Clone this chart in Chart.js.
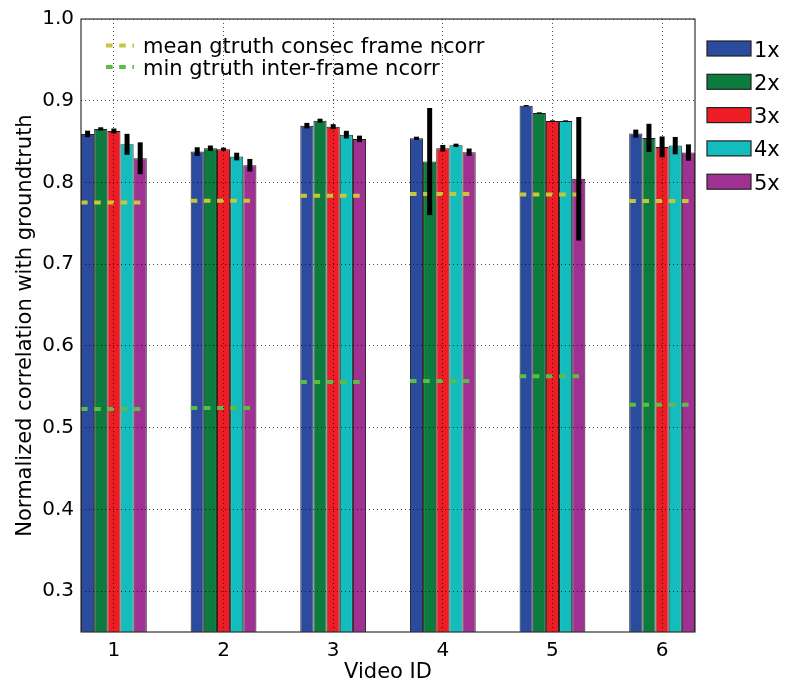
<!doctype html>
<html lang="en">
<head>
<meta charset="utf-8">
<title>Normalized correlation with groundtruth</title>
<script src="https://cdn.jsdelivr.net/npm/chart.js@4.4.1/dist/chart.umd.min.js"></script>
<style>
  html, body { margin: 0; padding: 0; background: #fff; }
  #wrap { width: 785px; height: 686px; }
</style>
</head>
<body>
<div id="wrap"><canvas id="myChart"></canvas></div>
<script>
// data
const videoIds = [1, 2, 3, 4, 5, 6];
const yTicks = [0.3, 0.4, 0.5, 0.6, 0.7, 0.8, 0.9, 1.0];
const seriesLabels = ['1x', '2x', '3x', '4x', '5x'];
const seriesColors = ['#2b4c9e', '#0c7b3e', '#ee1d25', '#13bdbd', '#a03192'];

const ncorr1x = [0.8594, 0.8378, 0.8695, 0.8540, 0.8939, 0.8598];
const ncorr2x = [0.8655, 0.8419, 0.8756, 0.8256, 0.8850, 0.8545];
const ncorr3x = [0.8630, 0.8406, 0.8683, 0.8419, 0.8752, 0.8435];
const ncorr4x = [0.8467, 0.8317, 0.8585, 0.8455, 0.8752, 0.8451];
const ncorr5x = [0.8296, 0.8211, 0.8533, 0.8370, 0.8045, 0.8366];

const err1x = [0.0040, 0.0053, 0.0034, 0.0020, 0.0008, 0.0049];
const err2x = [0.0020, 0.0033, 0.0024, 0.0655, 0.0008, 0.0173];
const err3x = [0.0030, 0.0020, 0.0030, 0.0040, 0.0008, 0.0128];
const err4x = [0.0128, 0.0047, 0.0047, 0.0020, 0.0008, 0.0106];
const err5x = [0.0195, 0.0077, 0.0040, 0.0045, 0.0756, 0.0100];

const meanConsecNcorr = [0.7756, 0.7777, 0.7838, 0.7858, 0.7854, 0.7772];
const minInterNcorr = [0.5228, 0.5240, 0.5560, 0.5570, 0.5630, 0.5280];

const lineLabels = ['mean gtruth consec frame ncorr', 'min gtruth inter-frame ncorr'];
const lineColors = ['#c6c63c', '#5cbc48'];

const seriesValues = [ncorr1x, ncorr2x, ncorr3x, ncorr4x, ncorr5x];
const seriesErrors = [err1x, err2x, err3x, err4x, err5x];

const FONT = 'DejaVu Sans';
Chart.defaults.font.family = FONT;
Chart.defaults.color = '#000';

const groupHalf = 0.3; // bars fill 0.6 of each unit

// dashed segment across each group, broken by null points
function segments(vals) {
    const pts = [];
    videoIds.forEach((id, i) => {
        pts.push({ x: id - groupHalf, y: vals[i] });
        pts.push({ x: id + groupHalf, y: vals[i] });
        pts.push({ x: id + 0.5, y: null });
    });
    return pts;
}

const barSets = seriesLabels.map((label, k) => ({
    type: 'bar',
    label: label,
    data: videoIds.map((id, i) => ({ x: id, y: seriesValues[k][i] })),
    backgroundColor: seriesColors[k],
    borderColor: '#1c1c1c',
    borderWidth: 1,
    borderSkipped: false,
    categoryPercentage: 0.6,
    barPercentage: 1.0,
    order: 1
}));

const lineSets = lineLabels.map((label, k) => ({
    type: 'line',
    label: label,
    data: segments(k === 0 ? meanConsecNcorr : minInterNcorr),
    borderColor: lineColors[k],
    borderWidth: 4,
    borderDash: [6.6, 6.6],
    borderCapStyle: 'butt',
    pointRadius: 0,
    spanGaps: false,
    fill: false,
    order: 0
}));

const extras = {
    id: 'extras',
    afterDatasetsDraw(chart) {
        const ctx = chart.ctx;
        const y = chart.scales.y;
        ctx.save();
        ctx.strokeStyle = '#000';
        ctx.lineWidth = 5;
        ctx.lineCap = 'butt';
        seriesErrors.forEach((errs, k) => {
            const meta = chart.getDatasetMeta(k);
            meta.data.forEach((bar, i) => {
                const v = seriesValues[k][i];
                ctx.beginPath();
                ctx.moveTo(bar.x, y.getPixelForValue(v - errs[i]));
                ctx.lineTo(bar.x, y.getPixelForValue(v + errs[i]));
                ctx.stroke();
            });
        });
        ctx.restore();
    },
    afterDraw(chart) {
        const ctx = chart.ctx;
        const a = chart.chartArea;
        ctx.save();
        // frame
        ctx.strokeStyle = '#333';
        ctx.lineWidth = 1.2;
        ctx.strokeRect(a.left, a.top, a.right - a.left, a.bottom - a.top);

        // dashed-line legend, top left inside
        ctx.font = '21px "' + FONT + '"';
        ctx.textBaseline = 'alphabetic';
        lineLabels.forEach((lab, k) => {
            const base = a.top + 34 + k * 21.5;
            ctx.strokeStyle = lineColors[k];
            ctx.lineWidth = 4;
            ctx.setLineDash([6.6, 6.6]);
            ctx.beginPath();
            ctx.moveTo(a.left + 25, base - 7.5);
            ctx.lineTo(a.left + 53, base - 7.5);
            ctx.stroke();
            ctx.setLineDash([]);
            ctx.fillStyle = '#000';
            ctx.fillText(lab, a.left + 62, base);
        });

        // bar legend, right outside
        seriesLabels.forEach((lab, k) => {
            const top = a.top + 22 + k * 33.3;
            ctx.fillStyle = seriesColors[k];
            ctx.fillRect(a.right + 12, top, 44, 15);
            ctx.strokeStyle = '#222';
            ctx.lineWidth = 1.2;
            ctx.strokeRect(a.right + 12, top, 44, 15);
            ctx.fillStyle = '#000';
            ctx.fillText(lab, a.right + 59, top + 15.5);
        });
        ctx.restore();
    }
};

const ctx = document.getElementById('myChart').getContext('2d');
const myChart = new Chart(ctx, {
    type: 'bar',
    data: { datasets: barSets.concat(lineSets) },
    options: {
        responsive: true,
        maintainAspectRatio: false,
        animation: false,
        layout: { padding: { top: 17, right: 90, left: 0, bottom: 0 } },
        plugins: {
            legend: { display: false },
            tooltip: { enabled: false }
        },
        scales: {
            x: {
                type: 'linear',
                min: 0.7,
                max: 6.3,
                offset: false,
                afterBuildTicks: s => { s.ticks = videoIds.map(v => ({ value: v })); },
                afterFit: s => { s.height = 54; },
                grid: {
                    offset: false,
                    z: 1,
                    color: 'rgba(0,0,0,0.7)',
                    lineWidth: 1,
                    drawTicks: false
                },
                border: { display: false, dash: [1, 3] },
                ticks: {
                    font: { size: 20 },
                    padding: 7,
                    callback: v => String(v)
                },
                title: {
                    display: true,
                    text: 'Video ID',
                    font: { size: 21 },
                    padding: { top: 0, bottom: 1 }
                }
            },
            y: {
                min: 0.25,
                max: 1.0,
                afterBuildTicks: s => { s.ticks = yTicks.map(v => ({ value: v })); },
                afterFit: s => { s.width = 81; },
                grid: {
                    z: 1,
                    color: 'rgba(0,0,0,0.7)',
                    lineWidth: 1,
                    drawTicks: false
                },
                border: { display: false, dash: [1, 3] },
                ticks: {
                    font: { size: 20 },
                    padding: 7,
                    callback: v => v.toFixed(1)
                },
                title: {
                    display: true,
                    text: 'Normalized correlation with groundtruth',
                    font: { size: 21 },
                    padding: { top: 13, bottom: 0 }
                }
            }
        }
    },
    plugins: [extras]
});
</script>
</body>
</html>
